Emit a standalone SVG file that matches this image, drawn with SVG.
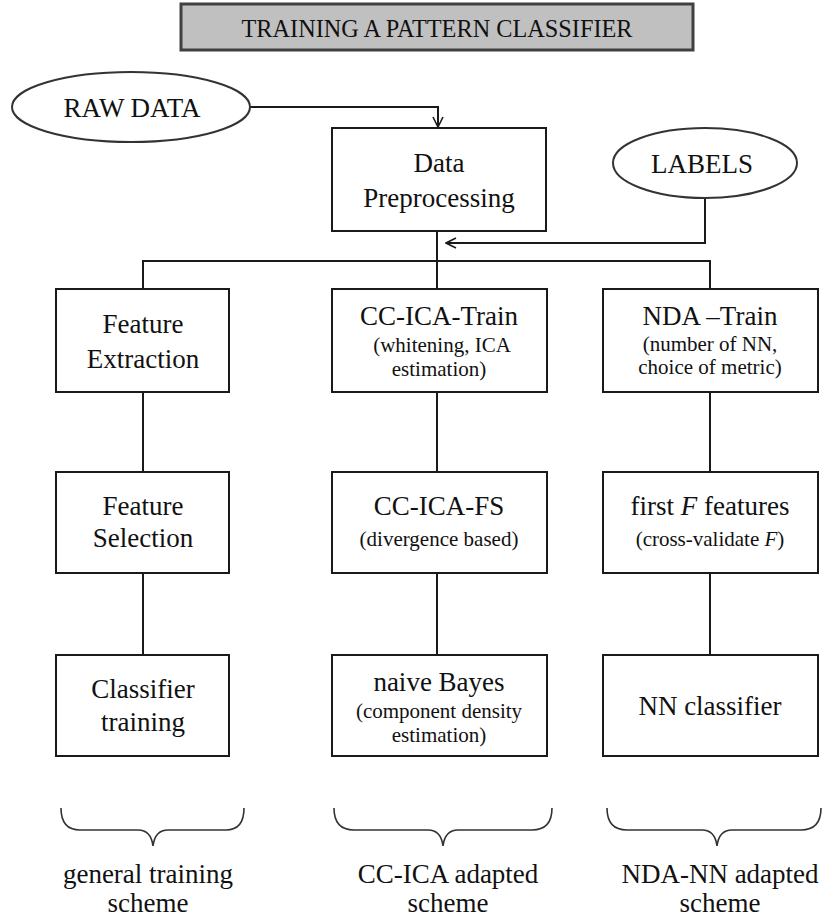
<svg xmlns="http://www.w3.org/2000/svg" width="824" height="920" viewBox="0 0 824 920">
<style>
text{font-family:"Liberation Serif","Times New Roman","DejaVu Serif",serif;fill:#111;text-anchor:middle}
.t{font-size:27px}
.s{font-size:21px}
.box{fill:#fff;stroke:#1a1a1a;stroke-width:2}
.ln{fill:none;stroke:#1a1a1a;stroke-width:2}
.br{fill:none;stroke:#333;stroke-width:1.6}
</style>
<defs>
<marker id="arr" viewBox="0 0 12 12" refX="11" refY="6" markerWidth="12" markerHeight="12" markerUnits="userSpaceOnUse" orient="auto">
<path d="M1,1 L11,6 L1,11" fill="none" stroke="#1a1a1a" stroke-width="1.6"/>
</marker>
</defs>
<rect width="824" height="920" fill="#fff"/>
<g id="title">
<rect x="181" y="4" width="512" height="46" fill="#c0c0c0" stroke="#404040" stroke-width="3"/>
<text x="437" y="37" style="font-size:25px" textLength="391" lengthAdjust="spacingAndGlyphs">TRAINING A PATTERN CLASSIFIER</text>
</g>
<g id="connectors">
<polyline class="ln" points="250,107 438,107 438,127" marker-end="url(#arr)"/>
<polyline class="ln" points="705,198 705,243 446,243" marker-end="url(#arr)"/>
<line class="ln" x1="437" y1="231" x2="437" y2="261"/>
<polyline class="ln" points="143,289 143,261 710,261 710,289"/>
<line class="ln" x1="437" y1="261" x2="437" y2="289"/>
<line class="ln" x1="143" y1="392" x2="143" y2="472"/>
<line class="ln" x1="437" y1="392" x2="437" y2="472"/>
<line class="ln" x1="710" y1="392" x2="710" y2="472"/>
<line class="ln" x1="143" y1="573" x2="143" y2="655"/>
<line class="ln" x1="437" y1="573" x2="437" y2="655"/>
<line class="ln" x1="710" y1="573" x2="710" y2="655"/>
</g>
<g id="raw-data">
<ellipse cx="131" cy="107" rx="119" ry="35" fill="#fff" stroke="#333" stroke-width="2"/>
<text class="t" x="132" y="117">RAW DATA</text>
</g>
<g id="labels">
<ellipse cx="705" cy="163" rx="92" ry="35" fill="#fff" stroke="#333" stroke-width="2"/>
<text class="t" x="702" y="173">LABELS</text>
</g>
<g id="data-preprocessing">
<rect class="box" x="332" y="128" width="214" height="103"/>
<text class="t" x="439" y="172">Data</text>
<text class="t" x="439" y="207">Preprocessing</text>
</g>
<g id="feature-extraction">
<rect class="box" x="56" y="289" width="173" height="103"/>
<text class="t" x="143" y="333">Feature</text>
<text class="t" x="143" y="368">Extraction</text>
</g>
<g id="cc-ica-train">
<rect class="box" x="332" y="289" width="215" height="103"/>
<text class="t" x="439" y="325">CC-ICA-Train</text>
<text class="s" x="442" y="352">(whitening, ICA</text>
<text class="s" x="439" y="376">estimation)</text>
</g>
<g id="nda-train">
<rect class="box" x="603" y="289" width="215" height="103"/>
<text class="t" x="710" y="325">NDA –Train</text>
<text class="s" x="710" y="351">(number of NN,</text>
<text class="s" x="710" y="374">choice of metric)</text>
</g>
<g id="feature-selection">
<rect class="box" x="56" y="472" width="173" height="101"/>
<text class="t" x="143" y="515">Feature</text>
<text class="t" x="143" y="547">Selection</text>
</g>
<g id="cc-ica-fs">
<rect class="box" x="332" y="472" width="215" height="101"/>
<text class="t" x="439" y="515">CC-ICA-FS</text>
<text class="s" x="439" y="546">(divergence based)</text>
</g>
<g id="first-f-features">
<rect class="box" x="603" y="472" width="215" height="101"/>
<text class="t" x="710" y="515">first <tspan font-style="italic">F</tspan> features</text>
<text class="s" x="710" y="546">(cross-validate <tspan font-style="italic">F</tspan>)</text>
</g>
<g id="classifier-training">
<rect class="box" x="56" y="655" width="173" height="101"/>
<text class="t" x="143" y="698">Classifier</text>
<text class="t" x="143" y="731">training</text>
</g>
<g id="naive-bayes">
<rect class="box" x="332" y="655" width="215" height="101"/>
<text class="t" x="439" y="691">naive Bayes</text>
<text class="s" x="439" y="718">(component density</text>
<text class="s" x="439" y="742">estimation)</text>
</g>
<g id="nn-classifier">
<rect class="box" x="603" y="655" width="215" height="101"/>
<text class="t" x="710" y="715">NN classifier</text>
</g>
<g id="brace-general">
<path class="br" d="M61,808 Q61,830 80,830 L138,830 Q151,830 153,846 Q155,830 168,830 L226,830 Q244,830 244,808"/>
<text class="t" x="148" y="883">general training</text>
<text class="t" x="148" y="912">scheme</text>
</g>
<g id="brace-ccica">
<path class="br" d="M334,808 Q334,830 354,830 L428,830 Q441,830 443,846 Q445,830 458,830 L532,830 Q552,830 552,808"/>
<text class="t" x="448" y="883">CC-ICA adapted</text>
<text class="t" x="448" y="912">scheme</text>
</g>
<g id="brace-ndann">
<path class="br" d="M607,808 Q607,830 627,830 L702,830 Q715,830 717,846 Q719,830 732,830 L801,830 Q821,830 821,808"/>
<text class="t" x="720" y="883">NDA-NN adapted</text>
<text class="t" x="720" y="912">scheme</text>
</g>
</svg>
